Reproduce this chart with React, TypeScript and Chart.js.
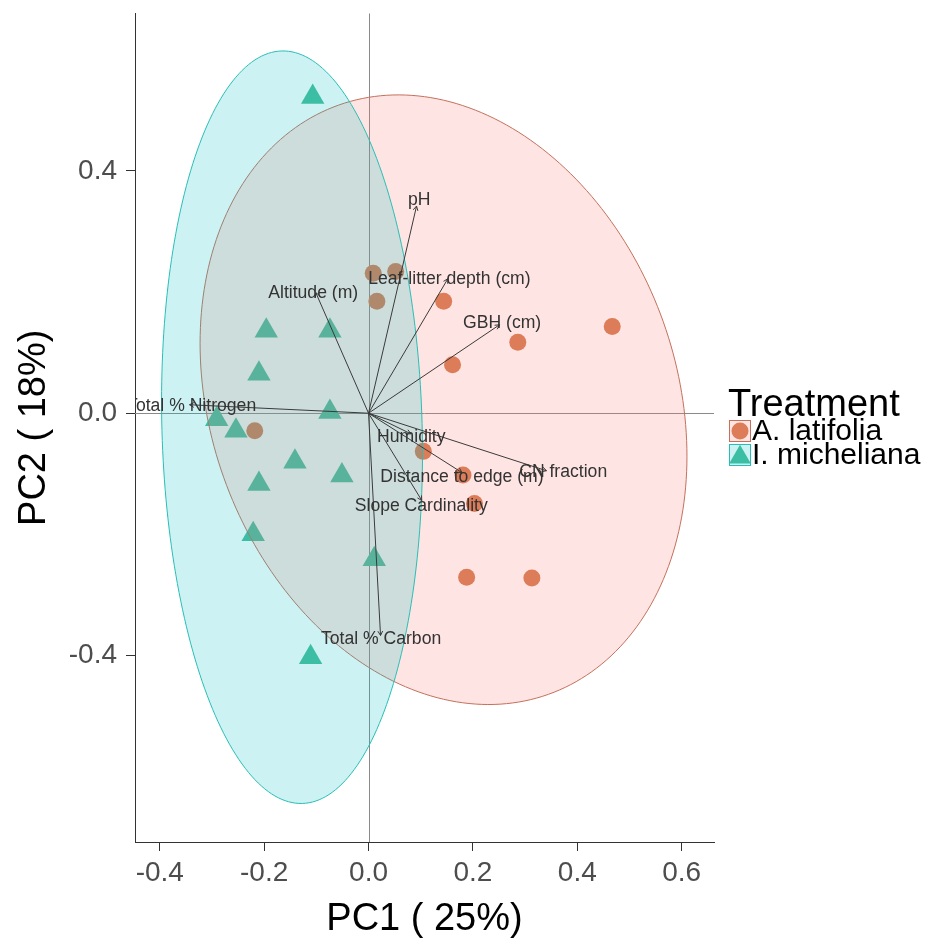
import React, { useEffect, useRef } from "react";
import { Chart, registerables } from "chart.js";

Chart.register(...registerables);

// ---------- data ----------
const treatments = ["A. latifolia", "I. micheliana"];

const latifoliaPC1 = [0.009, 0.052, 0.016, 0.144, 0.161, 0.286, 0.467, -0.218, 0.105, 0.181, 0.203, 0.188, 0.313];
const latifoliaPC2 = [0.231, 0.234, 0.185, 0.185, 0.080, 0.117, 0.143, -0.029, -0.063, -0.102, -0.149, -0.271, -0.272];

const michelianaPC1 = [-0.107, -0.196, -0.074, -0.210, -0.074, -0.291, -0.254, -0.141, -0.051, -0.210, -0.221, 0.011, -0.111];
const michelianaPC2 = [0.522, 0.136, 0.136, 0.065, 0.002, -0.010, -0.029, -0.080, -0.103, -0.117, -0.200, -0.241, -0.403];

const variableNames = [
  "pH",
  "Leaf-litter depth (cm)",
  "Altitude (m)",
  "GBH (cm)",
  "Total % Nitrogen",
  "Humidity",
  "CN fraction",
  "Distance to edge (m)",
  "Slope Cardinality",
  "Total % Carbon",
];
const loadingPC1 = [0.092, 0.152, -0.101, 0.251, -0.343, 0.081, 0.341, 0.179, 0.102, 0.023];
const loadingPC2 = [0.342, 0.222, 0.199, 0.146, 0.014, -0.034, -0.095, -0.098, -0.144, -0.367];
const labelPC1 = [0.097, 0.155, -0.106, 0.256, -0.339, 0.082, 0.373, 0.179, 0.101, 0.024];
const labelPC2 = [0.351, 0.222, 0.199, 0.149, 0.011, -0.040, -0.098, -0.106, -0.153, -0.373];

// confidence ellipses: centre and two conjugate semi-axis vectors (PC1, PC2)
const ellipseCentre = [[0.1437, 0.0223], [-0.1466, -0.0231]];
const ellipseAxisU = [[0.4665, -0.0932], [0.25, -0.0429]];
const ellipseAxisV = [[0, 0.4946], [0, 0.6198]];

const xTicks = [-0.4, -0.2, 0.0, 0.2, 0.4, 0.6];
const yTicks = [-0.4, 0.0, 0.4];
const xRange = [-0.4475, 0.662];
const yRange = [-0.708, 0.66];

// ---------- styles ----------
const FONT = "'Liberation Sans', Arial, sans-serif";
const pointColors = ["rgb(214,125,83)", "rgb(75,190,157)"];
const ellipseFill = ["rgba(248,118,109,0.2)", "rgba(0,191,196,0.2)"];
const ellipseStroke = ["rgb(196,112,92)", "rgb(40,190,182)"];

function ellipsePath(ctx: CanvasRenderingContext2D, xs: any, ys: any, g: number) {
  const c = ellipseCentre[g];
  const u = ellipseAxisU[g];
  const v = ellipseAxisV[g];
  ctx.beginPath();
  const n = 240;
  for (let i = 0; i <= n; i++) {
    const t = (i / n) * Math.PI * 2;
    const px = xs.getPixelForValue(c[0] + u[0] * Math.cos(t) + v[0] * Math.sin(t));
    const py = ys.getPixelForValue(c[1] + u[1] * Math.cos(t) + v[1] * Math.sin(t));
    if (i === 0) ctx.moveTo(px, py);
    else ctx.lineTo(px, py);
  }
  ctx.closePath();
}

const biplotLayers = {
  id: "biplotLayers",
  beforeDatasetsDraw(chart: any) {
    const { ctx, chartArea: a, scales } = chart;
    const xs = scales.x;
    const ys = scales.y;
    ctx.save();
    ctx.strokeStyle = "#8a8a8a";
    ctx.lineWidth = 1;
    const x0 = Math.round(xs.getPixelForValue(0)) + 0.5;
    const y0 = Math.round(ys.getPixelForValue(0)) + 0.5;
    ctx.beginPath();
    ctx.moveTo(x0, a.top);
    ctx.lineTo(x0, a.bottom);
    ctx.moveTo(a.left, y0);
    ctx.lineTo(a.right, y0);
    ctx.stroke();
    ctx.restore();
  },
  afterDatasetsDraw(chart: any) {
    const { ctx, chartArea: a, scales } = chart;
    const xs = scales.x;
    const ys = scales.y;
    ctx.save();
    ctx.beginPath();
    ctx.rect(a.left, a.top, a.right - a.left, a.bottom - a.top);
    ctx.clip();

    for (let g = 0; g < ellipseCentre.length; g++) {
      ellipsePath(ctx, xs, ys, g);
      ctx.fillStyle = ellipseFill[g];
      ctx.fill();
      ctx.strokeStyle = ellipseStroke[g];
      ctx.lineWidth = 1;
      ctx.stroke();
    }

    const ox = xs.getPixelForValue(0);
    const oy = ys.getPixelForValue(0);
    ctx.strokeStyle = "#3a3a3a";
    ctx.lineWidth = 1;
    for (let k = 0; k < variableNames.length; k++) {
      const ex = xs.getPixelForValue(loadingPC1[k]);
      const ey = ys.getPixelForValue(loadingPC2[k]);
      const ang = Math.atan2(ey - oy, ex - ox);
      const h = 5;
      ctx.beginPath();
      ctx.moveTo(ox, oy);
      ctx.lineTo(ex, ey);
      ctx.moveTo(ex - h * Math.cos(ang - 0.5), ey - h * Math.sin(ang - 0.5));
      ctx.lineTo(ex, ey);
      ctx.lineTo(ex - h * Math.cos(ang + 0.5), ey - h * Math.sin(ang + 0.5));
      ctx.stroke();
    }

    ctx.font = `17.6px ${FONT}`;
    ctx.fillStyle = "#333333";
    ctx.textAlign = "center";
    ctx.textBaseline = "middle";
    for (let k = 0; k < variableNames.length; k++) {
      ctx.fillText(variableNames[k], xs.getPixelForValue(labelPC1[k]), ys.getPixelForValue(labelPC2[k]));
    }
    ctx.restore();
  },
  afterDraw(chart: any) {
    const { ctx, chartArea: a } = chart;
    const lx = a.right + 14;
    ctx.save();
    ctx.fillStyle = "#000";
    ctx.textAlign = "left";
    ctx.textBaseline = "alphabetic";
    ctx.font = `38px ${FONT}`;
    ctx.fillText("Treatment", lx, 416);

    const rows = [431, 455];
    for (let g = 0; g < treatments.length; g++) {
      const cx = lx + 12;
      const cy = rows[g];
      ctx.fillStyle = pointColors[g];
      ctx.beginPath();
      if (g === 0) {
        ctx.arc(cx, cy, 8.5, 0, Math.PI * 2);
      } else {
        const r = 12.5;
        ctx.moveTo(cx, cy - r * 0.75 - 1);
        ctx.lineTo(cx + r * 0.866, cy + r * 0.75 - 1);
        ctx.lineTo(cx - r * 0.866, cy + r * 0.75 - 1);
        ctx.closePath();
      }
      ctx.fill();
      ctx.fillStyle = ellipseFill[g];
      ctx.fillRect(lx + 1, cy - 11, 22, 22);
      ctx.strokeStyle = ellipseStroke[g];
      ctx.lineWidth = 1;
      ctx.strokeRect(lx + 1.5, cy - 10.5, 21, 21);

      ctx.fillStyle = "#000";
      ctx.font = `30px ${FONT}`;
      ctx.textBaseline = "middle";
      ctx.fillText(treatments[g], lx + 24, cy + 1);
    }
    ctx.restore();
  },
};

export default function App() {
  const canvasRef = useRef<HTMLCanvasElement | null>(null);

  useEffect(() => {
    if (!canvasRef.current) return;
    const chart = new Chart(canvasRef.current, {
      type: "scatter",
      data: {
        datasets: [
          {
            label: treatments[0],
            data: latifoliaPC1.map((v, i) => ({ x: v, y: latifoliaPC2[i] })),
            pointStyle: "circle",
            pointRadius: 8.5,
            pointHoverRadius: 8.5,
            pointBorderWidth: 0,
            backgroundColor: pointColors[0],
            borderColor: pointColors[0],
          },
          {
            label: treatments[1],
            data: michelianaPC1.map((v, i) => ({ x: v, y: michelianaPC2[i] })),
            pointStyle: "triangle",
            pointRadius: 13.5,
            pointHoverRadius: 13.5,
            pointBorderWidth: 0,
            backgroundColor: pointColors[1],
            borderColor: pointColors[1],
          },
        ],
      },
      options: {
        responsive: false,
        animation: false,
        devicePixelRatio: 1,
        layout: { padding: { left: 0, right: 217, top: 12, bottom: 0 } },
        plugins: { legend: { display: false }, tooltip: { enabled: false } },
        scales: {
          x: {
            type: "linear",
            min: xRange[0],
            max: xRange[1],
            afterBuildTicks: (s: any) => {
              s.ticks = xTicks.map((v) => ({ value: v }));
            },
            afterFit: (s: any) => {
              s.height = 97;
              s.paddingLeft = 0;
              s.paddingRight = 0;
            },
            grid: { display: true, drawOnChartArea: false, drawTicks: true, tickLength: 9, color: "#333", tickColor: "#333" },
            border: { display: true, color: "#333", width: 1 },
            ticks: {
              font: { family: FONT, size: 28 },
              color: "#4D4D4D",
              padding: 5,
              maxRotation: 0,
              autoSkip: false,
              callback: (v: any) => Number(v).toFixed(1),
            },
            title: {
              display: true,
              text: "PC1 ( 25%)",
              font: { family: FONT, size: 38, lineHeight: 1.0 },
              color: "#000",
              padding: { top: 0, bottom: 0 },
            },
          },
          y: {
            type: "linear",
            min: yRange[0],
            max: yRange[1],
            afterBuildTicks: (s: any) => {
              s.ticks = yTicks.map((v) => ({ value: v }));
            },
            afterFit: (s: any) => {
              s.width = 135;
              s.paddingTop = 0;
              s.paddingBottom = 0;
            },
            grid: { display: true, drawOnChartArea: false, drawTicks: true, tickLength: 9, color: "#333", tickColor: "#333" },
            border: { display: true, color: "#333", width: 1 },
            ticks: {
              font: { family: FONT, size: 28 },
              color: "#4D4D4D",
              padding: 9,
              autoSkip: false,
              callback: (v: any) => Number(v).toFixed(1),
            },
            title: {
              display: true,
              text: "PC2 ( 18%)",
              font: { family: FONT, size: 38 },
              color: "#000",
              padding: { top: 12, bottom: 0 },
            },
          },
        },
      },
      plugins: [biplotLayers],
    });
    return () => chart.destroy();
  }, []);

  return (
    <div style={{ position: "absolute", left: 0, top: 0, width: 931, height: 939, background: "#fff" }}>
      <canvas ref={canvasRef} width={931} height={939} />
    </div>
  );
}
